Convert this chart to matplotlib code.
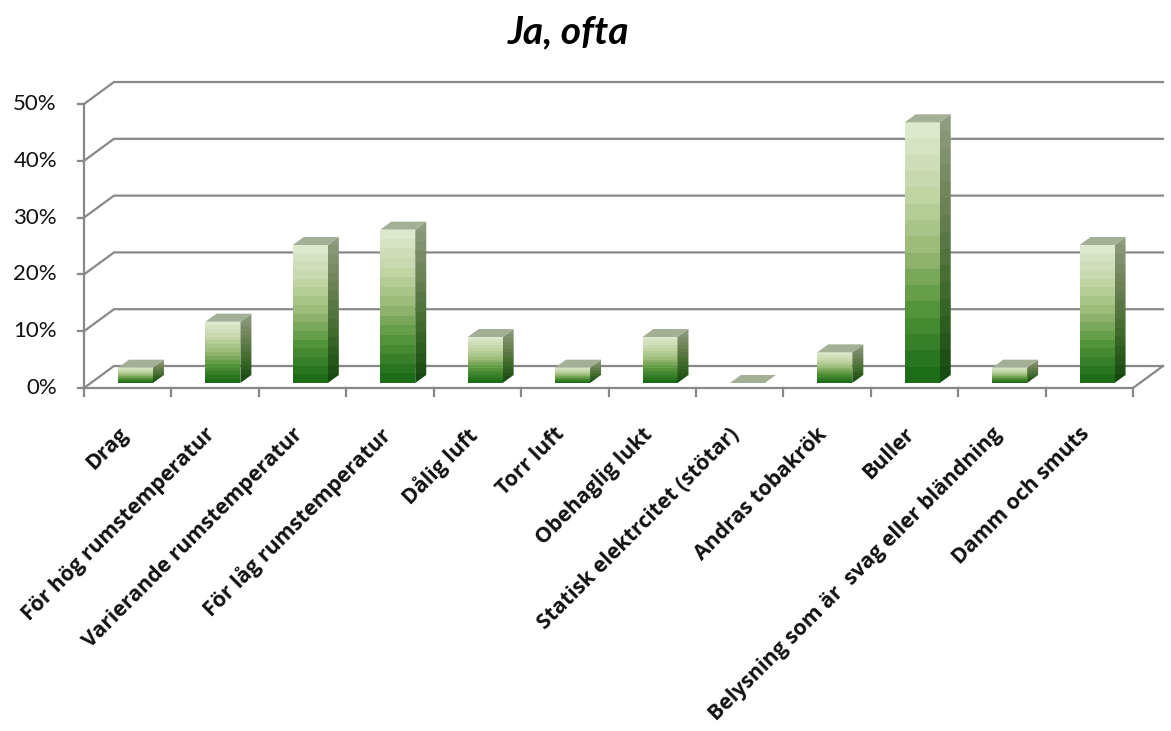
import numpy as np
import matplotlib.pyplot as plt
from matplotlib.colors import LinearSegmentedColormap
from matplotlib.patches import Polygon

plt.rcParams['font.family'] = ['Lato', 'DejaVu Sans']

# Share of respondents answering "Ja, ofta" (percent)
categories = [
    'Drag',
    'För hög rumstemperatur',
    'Varierande rumstemperatur',
    'För låg rumstemperatur',
    'Dålig luft',
    'Torr luft',
    'Obehaglig lukt',
    'Statisk elektrcitet (stötar)',
    'Andras tobakrök',
    'Buller',
    'Belysning som är  svag eller bländning',
    'Damm och smuts',
]
values = [2.7, 10.8, 24.3, 27.0, 8.1, 2.7, 8.1, 0.0, 5.4, 45.9, 2.7, 24.3]
yticks = [0, 10, 20, 30, 40, 50]

# pseudo-3D geometry, in data units (categories / percent)
wall_dx, wall_dy = 0.343, 3.87     # depth of the floor / back wall
bar_dx, bar_dy = 0.089, 0.88       # bars stand a bit behind the front edge
side_dx, side_dy = 0.126, 1.41     # depth of each bar
bar_w = 0.40
grid_col = '#888888'

front_cmap = LinearSegmentedColormap.from_list(
    'front', ['#1d6c18', '#4f9136', '#98b874', '#c3d6a8', '#dde9cc'])
side_cmap = LinearSegmentedColormap.from_list(
    'side', ['#164a10', '#3f6a2c', '#6c8154', '#8e9c7e'])
top_col = '#a4b096'

fig = plt.figure(figsize=(11.71, 7.31), dpi=100)
ax = fig.add_axes([84 / 1171, 1 - 388 / 731, (1133 - 84) / 1171, (388 - 104) / 731])
ax.set_axis_off()
n = len(categories)

# back wall gridlines with their diagonal links to the value axis
for v in yticks:
    ax.plot([0, wall_dx, n + wall_dx], [v, v + wall_dy, v + wall_dy],
            color=grid_col, lw=1.6, clip_on=False, zorder=1)
    ax.plot([-0.07, 0], [v, v], color=grid_col, lw=1.6, clip_on=False, zorder=1)
    ax.text(-0.31, v, f'{v}%', ha='right', va='center', fontsize=16, color='#111111')

# floor outline and value axis
ax.plot([0, n, n + wall_dx], [0, 0, wall_dy], color=grid_col, lw=1.6, clip_on=False, zorder=1)
ax.plot([0, 0], [0, yticks[-1]], color=grid_col, lw=1.6, clip_on=False, zorder=1)
for i in range(n + 1):
    ax.plot([i, i], [0, -1.4], color=grid_col, lw=1.6, clip_on=False, zorder=1)

# bars: front faces from ax.bar, shaded with stepped gradients
xs = np.arange(n) + 0.5 + bar_dx
bars = ax.bar(xs, values, width=bar_w, bottom=bar_dy, color='none', linewidth=0, zorder=2)
steps = np.linspace(0, 1, 16)[:, None]
for rect, val in zip(bars, values):
    x0, b = rect.get_x(), rect.get_y()
    x1, t = x0 + rect.get_width(), b + rect.get_height()
    if val > 0:
        im = ax.imshow(steps, cmap=front_cmap, origin='lower', aspect='auto',
                       extent=[x0, x1, b, t], interpolation='nearest', zorder=2)
        im.set_clip_path(rect)
        side = Polygon([(x1, b), (x1 + side_dx, b + side_dy), (x1 + side_dx, t + side_dy), (x1, t)],
                       closed=True, facecolor='none', edgecolor='none')
        ax.add_patch(side)
        im2 = ax.imshow(steps, cmap=side_cmap, origin='lower', aspect='auto',
                        extent=[x1, x1 + side_dx, b, t + side_dy], interpolation='nearest', zorder=2)
        im2.set_clip_path(side)
    ax.add_patch(Polygon([(x0, t), (x1, t), (x1 + side_dx, t + side_dy), (x0 + side_dx, t + side_dy)],
                         closed=True, facecolor=top_col, edgecolor='none', zorder=3))

# category labels, rotated under the floor
for i, lab in enumerate(categories):
    ax.text(i + 0.38, -6.3, lab, rotation=45, rotation_mode='anchor', ha='right', va='top',
            fontsize=15.3, fontweight='bold', color='#111111', family=['Open Sans', 'DejaVu Sans'])

ax.set_xlim(0, n)
ax.set_ylim(0, yticks[-1])

fig.text(568 / 1171, 1 - 32 / 731, 'Ja, ofta', ha='center', va='center',
         fontsize=28, fontweight='bold', fontstyle='italic')

fig.savefig('out.png', dpi=100)
